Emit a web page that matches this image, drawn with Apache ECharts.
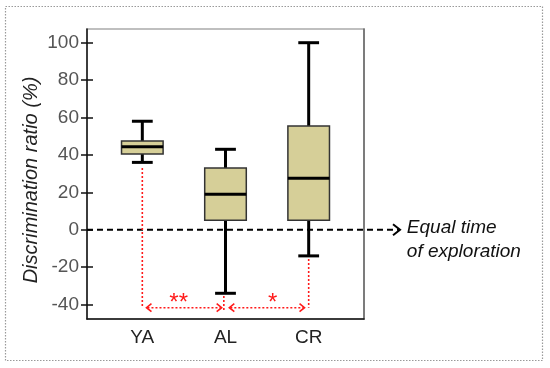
<!DOCTYPE html>
<html>
<head>
<meta charset="utf-8">
<script src="https://cdn.jsdelivr.net/npm/echarts@6/dist/echarts.min.js"></script>
<style>html,body{margin:0;padding:0;background:#fff;}#c{width:550px;height:368px;}</style>
</head>
<body>
<div id="c"></div>
<script>
// ---- data ----
const categories = ['YA', 'AL', 'CR'];
const lowerWhisker = [36, -34, -14];
const q1 = [40.5, 5, 5];
const median = [44.3, 19, 27.5];
const q3 = [47.4, 33, 55.5];
const upperWhisker = [58, 43, 100];
const yTicks = [-40, -20, 0, 20, 40, 60, 80, 100];
const yAxisTitle = 'Discrimination ratio (%)';
const refLabel = ['Equal time', 'of exploration'];
const sigLabels = ['**', '*'];

const FONT = '"Liberation Sans", Arial, sans-serif';
const X_MIN = 0.335, X_MAX = 3.665;
const Y_MIN = -47.75, Y_MAX = 107.33;

const chart = echarts.init(document.getElementById('c'), null, {renderer: 'canvas'});

const boxData = categories.map((c, i) => [i + 1, lowerWhisker[i], q1[i], median[i], q3[i], upperWhisker[i]]);

function renderBox(params, api) {
  const x = api.value(0);
  const lo = api.coord([x, api.value(1)]);
  const b1 = api.coord([x, api.value(2)]);
  const md = api.coord([x, api.value(3)]);
  const b3 = api.coord([x, api.value(4)]);
  const hi = api.coord([x, api.value(5)]);
  const half = api.size([0.5, 0])[0] / 2;
  const cap = api.size([0.25, 0])[0] / 2;
  const cx = lo[0];
  const ls = {stroke: '#000', lineWidth: 3, lineCap: 'butt'};
  return {
    type: 'group',
    children: [
      {type: 'line', shape: {x1: cx, y1: hi[1], x2: cx, y2: b3[1]}, style: ls},
      {type: 'line', shape: {x1: cx - cap, y1: hi[1], x2: cx + cap, y2: hi[1]}, style: ls},
      {type: 'line', shape: {x1: cx, y1: b1[1], x2: cx, y2: lo[1]}, style: ls},
      {type: 'line', shape: {x1: cx - cap, y1: lo[1], x2: cx + cap, y2: lo[1]}, style: ls},
      {type: 'rect', shape: {x: cx - half, y: b3[1], width: 2 * half, height: b1[1] - b3[1]},
        style: {fill: '#D6CF98', stroke: '#333', lineWidth: 1.5}},
      {type: 'line', shape: {x1: cx - half, y1: md[1], x2: cx + half, y2: md[1]}, style: ls}
    ]
  };
}

function renderRef(params, api) {
  const p0 = api.coord([X_MIN, 0]);
  const tip = api.coord([4.098, 0]);
  const t = api.coord([4.18, 0]);
  return {
    type: 'group',
    children: [
      {type: 'line', shape: {x1: p0[0], y1: p0[1], x2: tip[0] - 1, y2: tip[1]},
        style: {stroke: '#000', lineWidth: 2, lineDash: [6, 4]}},
      {type: 'polyline', shape: {points: [[tip[0] - 7, tip[1] - 5.5], [tip[0], tip[1]], [tip[0] - 7, tip[1] + 5.5]]},
        style: {stroke: '#000', lineWidth: 2, fill: null}},
      {type: 'text', x: t[0], y: t[1] - 1.5,
        style: {text: refLabel[0], font: 'italic 19px ' + FONT, fill: '#111', align: 'left', verticalAlign: 'middle'}},
      {type: 'text', x: t[0], y: t[1] + 22,
        style: {text: refLabel[1], font: 'italic 19px ' + FONT, fill: '#111', align: 'left', verticalAlign: 'middle'}}
    ]
  };
}

function renderSig(params, api) {
  const red = '#FF1A1A';
  const dot = {stroke: red, lineWidth: 1.6, lineDash: [2, 2]};
  const solid = {stroke: red, lineWidth: 1.6, fill: null};
  const yA = -41.7;
  const children = [];
  function vline(x, a, b) {
    const p = api.coord([x, a]), q = api.coord([x, b]);
    children.push({type: 'line', shape: {x1: p[0], y1: p[1], x2: q[0], y2: q[1]}, style: dot});
  }
  function arrow(xa, xb) {
    const p = api.coord([xa, yA]), q = api.coord([xb, yA]);
    children.push({type: 'line', shape: {x1: p[0] + 1, y1: p[1], x2: q[0] - 1, y2: q[1]}, style: dot});
    children.push({type: 'polyline', shape: {points: [[p[0] + 5, p[1] - 4], [p[0], p[1]], [p[0] + 5, p[1] + 4]]}, style: solid});
    children.push({type: 'polyline', shape: {points: [[q[0] - 5, q[1] - 4], [q[0], q[1]], [q[0] - 5, q[1] + 4]]}, style: solid});
  }
  function star(x, txt) {
    const p = api.coord([x, -39.2]);
    children.push({type: 'text', x: p[0], y: p[1],
      style: {text: txt, font: '24px ' + FONT, fill: red, align: 'center', verticalAlign: 'middle'}});
  }
  vline(1, 33, yA);
  vline(1.98, -35.5, -43.5);
  vline(3, -15.7, yA);
  arrow(1.05, 1.954);
  arrow(2.046, 2.95);
  star(1.437, sigLabels[0]);
  star(2.567, sigLabels[1]);
  return {type: 'group', children};
}

const option = {
  animation: false,
  backgroundColor: '#fff',
  grid: {left: 87, top: 29, width: 277, height: 290, show: true, borderColor: '#aaa', borderWidth: 1.5,
    backgroundColor: 'transparent', containLabel: false, outerBoundsMode: 'none'},
  xAxis: {
    type: 'value', min: X_MIN, max: X_MAX,
    axisLine: {show: true, onZero: false, lineStyle: {color: '#111', width: 1.5}},
    axisTick: {show: false},
    splitLine: {show: false},
    axisLabel: {customValues: [1, 2, 3], formatter: v => categories[Math.round(v) - 1],
      margin: 9, fontSize: 19, fontFamily: FONT, color: '#222'}
  },
  yAxis: [
    {
      type: 'value', min: Y_MIN, max: Y_MAX, position: 'left',
      axisLine: {show: true, onZero: false, lineStyle: {color: '#111', width: 1.5}},
      axisTick: {show: true, inside: false, length: 6, customValues: yTicks, lineStyle: {color: '#111', width: 1.5}},
      axisLabel: {customValues: yTicks, margin: 8, fontSize: 19, fontFamily: FONT, color: '#555'},
      splitLine: {show: false}
    },
    {
      type: 'value', min: Y_MIN, max: Y_MAX, position: 'left', offset: 0,
      axisLine: {show: false, onZero: false},
      axisTick: {show: true, inside: true, length: 6, customValues: yTicks, lineStyle: {color: '#111', width: 1.5}},
      axisLabel: {show: false},
      splitLine: {show: false}
    },
    {
      type: 'value', min: Y_MIN, max: Y_MAX, position: 'right', offset: 0,
      axisLine: {show: true, onZero: false, lineStyle: {color: '#666', width: 1.5}},
      axisTick: {show: false},
      axisLabel: {show: false},
      splitLine: {show: false}
    }
  ],
  graphic: [
    {type: 'rect', shape: {x: 5.5, y: 6.5, width: 537, height: 354},
      style: {fill: 'none', stroke: '#9a9a9a', lineWidth: 1.2, lineDash: [1.5, 1.5]}},
    {type: 'text', x: 31.6, y: 180, rotation: Math.PI / 2,
      style: {text: yAxisTitle, font: 'italic 20px ' + FONT, fill: '#222', align: 'center', verticalAlign: 'middle'}}
  ],
  series: [
    {type: 'custom', xAxisIndex: 0, yAxisIndex: 0, clip: false, z: 2, data: [[0]], renderItem: renderRef},
    {type: 'custom', xAxisIndex: 0, yAxisIndex: 0, clip: false, z: 3, data: [[0]], renderItem: renderSig},
    {type: 'custom', xAxisIndex: 0, yAxisIndex: 0, clip: false, z: 4, data: boxData,
      encode: {x: 0, y: [1, 2, 3, 4, 5]}, renderItem: renderBox}
  ]
};
chart.setOption(option);
</script>
</body>
</html>
